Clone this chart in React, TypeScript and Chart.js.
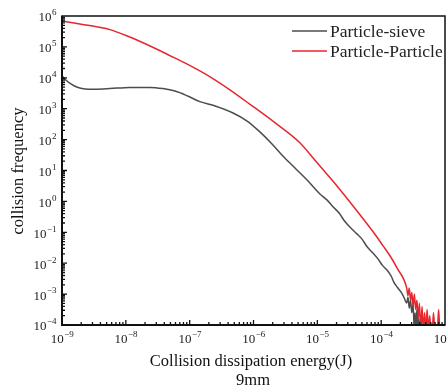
import React, { useEffect, useRef } from "react";
import { Chart, registerables } from "chart.js";

Chart.register(...registerables);

// log10 of collision dissipation energy (J) and log10 of collision frequency
const sieveLogE = [
  -9.0, -8.94, -8.86, -8.77, -8.64, -8.48, -8.25, -7.94, -7.62, -7.42, -7.23, -7.03, -6.84, -6.6,
  -6.32, -6.1, -5.9, -5.71, -5.54, -5.35, -5.16, -4.96, -4.85, -4.75, -4.65, -4.58, -4.49, -4.38,
  -4.3, -4.22, -4.13, -4.05, -3.98, -3.91, -3.84, -3.8, -3.75, -3.72, -3.68, -3.64, -3.6, -3.58,
  -3.56, -3.54, -3.52, -3.5, -3.48, -3.47, -3.46, -3.44, -3.43, -3.41, -3.4, -3.38, -3.36,
];
const sieveLogF = [
  4.06, 3.93, 3.8, 3.7, 3.64, 3.63, 3.65, 3.69, 3.69, 3.65, 3.57, 3.41, 3.23, 3.09,
  2.86, 2.6, 2.25, 1.86, 1.47, 1.08, 0.69, 0.24, 0.05, -0.18, -0.4, -0.62, -0.83, -1.05,
  -1.22, -1.47, -1.67, -1.86, -2.07, -2.22, -2.43, -2.62, -2.77, -2.85, -2.96, -3.12, -3.29, -3.1,
  -3.45, -3.2, -3.6, -3.35, -4.2, -3.6, -4.2, -3.5, -4.2, -3.8, -4.2, -3.9, -4.2,
];

const particleLogE = [
  -9.0, -8.72, -8.48, -8.25, -7.94, -7.62, -7.31, -7.0, -6.68, -6.37, -6.06, -5.66, -5.27, -5.04,
  -4.77, -4.49, -4.28, -4.12, -3.97, -3.85, -3.75, -3.6, -3.58, -3.56, -3.54, -3.52, -3.5, -3.48,
  -3.46, -3.44, -3.42, -3.4, -3.38, -3.36, -3.34, -3.32, -3.3, -3.28, -3.26, -3.24, -3.22, -3.2,
  -3.18, -3.16, -3.12, -3.1, -3.08, -3.05,
];
const particleLogF = [
  5.84, 5.74, 5.66, 5.56, 5.32, 5.03, 4.72, 4.4, 4.03, 3.61, 3.15, 2.54, 1.89, 1.34,
  0.69, -0.02, -0.57, -1.0, -1.44, -1.8, -2.16, -2.8, -3.05, -2.8, -3.2, -2.95, -3.4, -3.0,
  -3.5, -3.2, -3.8, -3.3, -4.2, -3.4, -4.2, -3.6, -4.2, -3.5, -4.2, -3.7, -4.2, -4.2,
  -3.6, -4.2, -4.2, -3.5, -4.2, -4.2,
];

const seriesNames = ["Particle-sieve", "Particle-Particle"];
const seriesColors = ["#4d4d4d", "#e8262e"];
const xDecades = [-9, -8, -7, -6, -5, -4, -3];
const yDecades = [-4, -3, -2, -1, 0, 1, 2, 3, 4, 5, 6];
const xTitle = "Collision dissipation energy(J)";
const subTitle = "9mm";
const yTitle = "collision frequency";

const FONT = "'Liberation Serif', 'Times New Roman', serif";

const toPoints = (xs: number[], ys: number[]) =>
  xs.map((x, i) => ({ x: Math.pow(10, x), y: Math.pow(10, ys[i]) }));

const supLabel = (ctx: CanvasRenderingContext2D, exp: number) => {
  const s = exp < 0 ? "\u2212" + Math.abs(exp) : String(exp);
  ctx.font = `13px ${FONT}`;
  const w1 = ctx.measureText("10").width;
  ctx.font = `9px ${FONT}`;
  const w2 = ctx.measureText(s).width;
  return { s, w1, w2 };
};

const drawLabel = (ctx: CanvasRenderingContext2D, exp: number, left: number, midY: number) => {
  const { s, w1 } = supLabel(ctx, exp);
  ctx.textBaseline = "middle";
  ctx.textAlign = "left";
  ctx.font = `13px ${FONT}`;
  ctx.fillText("10", left, midY);
  ctx.font = `9px ${FONT}`;
  ctx.fillText(s, left + w1 + 0.5, midY - 5);
};

const axesPlugin = {
  id: "axesPlugin",
  afterDraw(chart: any) {
    const ctx: CanvasRenderingContext2D = chart.ctx;
    const { left, right, top, bottom } = chart.chartArea;
    const xs = chart.scales.x;
    const ys = chart.scales.y;
    ctx.save();
    ctx.fillStyle = "#222";
    ctx.strokeStyle = "#111";
    ctx.lineWidth = 1.5;
    ctx.strokeRect(left, top, right - left, bottom - top);
    ctx.lineWidth = 2;
    ctx.beginPath();
    ctx.moveTo(left, top);
    ctx.lineTo(left, bottom);
    ctx.lineTo(right, bottom);
    ctx.stroke();
    ctx.lineWidth = 1.3;
    ctx.beginPath();
    for (let d = -9; d < -3; d++) {
      for (let m = 1; m < 10; m++) {
        const px = xs.getPixelForValue(m * Math.pow(10, d));
        const len = m === 1 ? 5 : 3;
        ctx.moveTo(px, bottom);
        ctx.lineTo(px, bottom - len);
      }
    }
    for (let d = -4; d < 6; d++) {
      for (let m = 1; m < 10; m++) {
        const py = ys.getPixelForValue(m * Math.pow(10, d));
        const len = m === 1 ? 5 : 3;
        ctx.moveTo(left, py);
        ctx.lineTo(left + len, py);
      }
    }
    ctx.stroke();
    xDecades.forEach((d) => {
      const px = xs.getPixelForValue(Math.pow(10, d));
      const { w1, w2 } = supLabel(ctx, d);
      drawLabel(ctx, d, px - (w1 + w2) / 2, bottom + 15);
    });
    yDecades.forEach((d) => {
      const py = ys.getPixelForValue(Math.pow(10, d));
      const { w1, w2 } = supLabel(ctx, d);
      drawLabel(ctx, d, left - 6 - (w1 + w2), py + 2);
    });
    ctx.fillStyle = "#111";
    ctx.font = `16.5px ${FONT}`;
    ctx.textAlign = "center";
    ctx.textBaseline = "middle";
    ctx.fillText(xTitle, 251, 362);
    ctx.fillText(subTitle, 253, 381);
    ctx.save();
    ctx.translate(19, 171);
    ctx.rotate(-Math.PI / 2);
    ctx.fillText(yTitle, 0, 0);
    ctx.restore();
    ctx.textAlign = "left";
    ctx.font = `17.5px ${FONT}`;
    seriesNames.forEach((name, i) => {
      const y = 31 + i * 20;
      ctx.strokeStyle = seriesColors[i];
      ctx.lineWidth = 1.5;
      ctx.beginPath();
      ctx.moveTo(292, y);
      ctx.lineTo(327, y);
      ctx.stroke();
      ctx.fillStyle = "#222";
      ctx.fillText(name, 330, y + 1);
    });
    ctx.restore();
  },
};

export default function App() {
  const ref = useRef<HTMLCanvasElement | null>(null);
  useEffect(() => {
    if (!ref.current) return;
    const chart = new Chart(ref.current, {
      type: "scatter",
      data: {
        datasets: [
          {
            label: seriesNames[0],
            data: toPoints(sieveLogE, sieveLogF),
            showLine: true,
            borderColor: seriesColors[0],
            borderWidth: 1.5,
            pointRadius: 0,
            cubicInterpolationMode: "monotone",
          },
          {
            label: seriesNames[1],
            data: toPoints(particleLogE, particleLogF),
            showLine: true,
            borderColor: seriesColors[1],
            borderWidth: 1.5,
            pointRadius: 0,
            cubicInterpolationMode: "monotone",
          },
        ],
      },
      options: {
        responsive: false,
        animation: false,
        events: [],
        layout: { padding: { left: 62, right: 2, top: 16, bottom: 67 } },
        plugins: { legend: { display: false }, tooltip: { enabled: false } },
        scales: {
          x: { type: "logarithmic", min: 1e-9, max: 1e-3, display: false },
          y: { type: "logarithmic", min: 1e-4, max: 1e6, display: false },
        },
      },
      plugins: [axesPlugin],
    });
    return () => chart.destroy();
  }, []);
  return (
    <div style={{ position: "fixed", left: 0, top: 0, width: 447, height: 392, background: "#fff" }}>
      <canvas ref={ref} width={447} height={392} />
    </div>
  );
}
